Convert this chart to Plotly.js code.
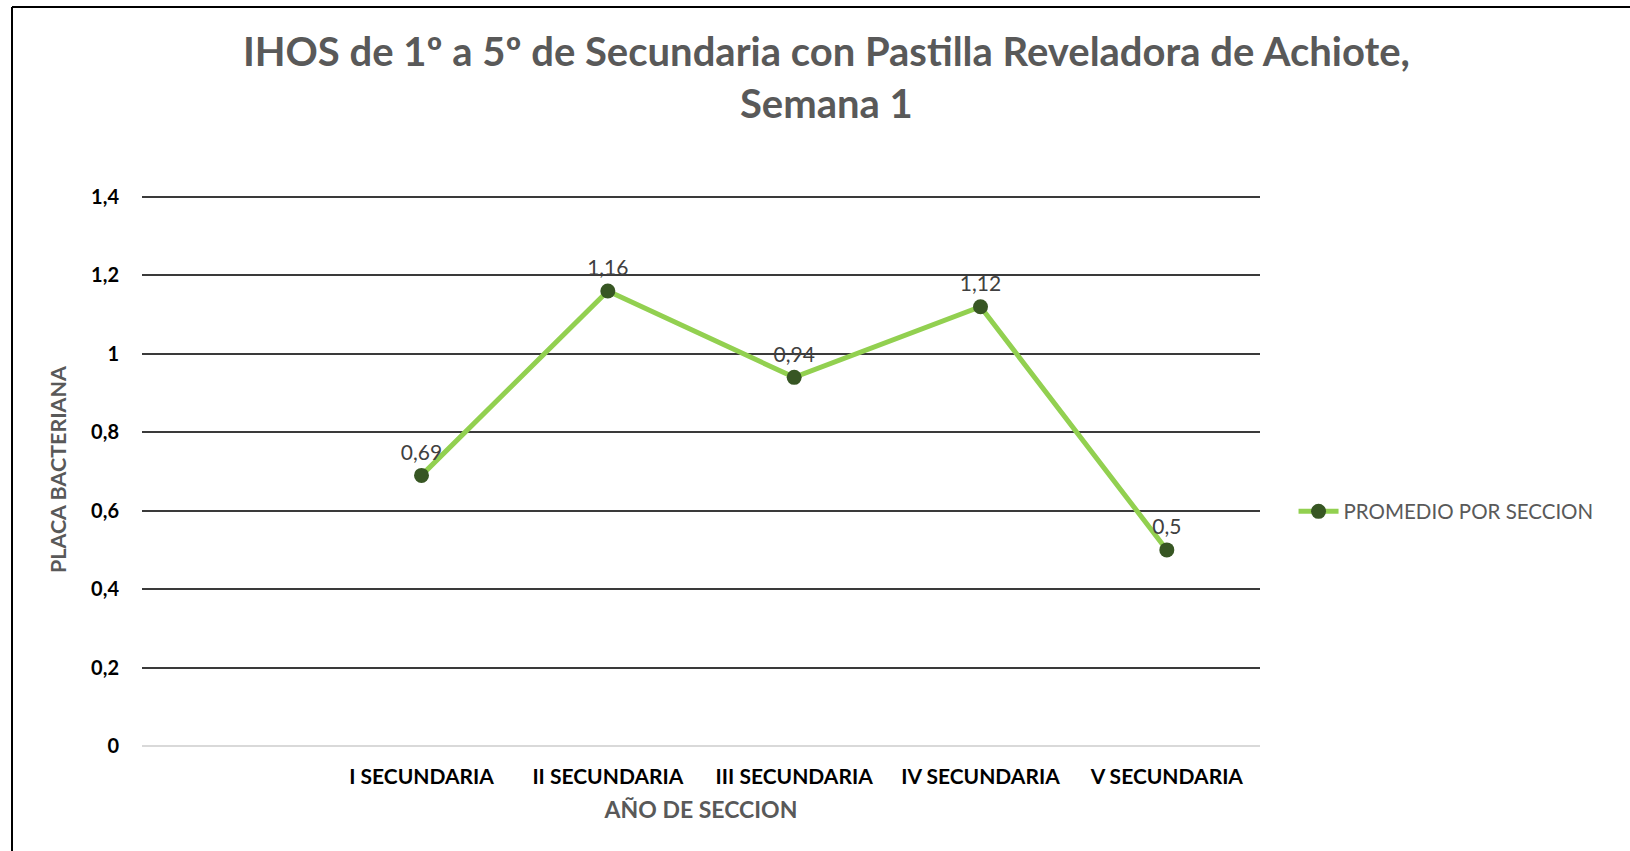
<!DOCTYPE html>
<html>
<head>
<meta charset="utf-8">
<script src="https://cdn.plot.ly/plotly-3.0.1.min.js"></script>
<style>
  html, body { margin: 0; padding: 0; background: #fff; }
  #plotArea { width: 1630px; height: 851px; }
</style>
</head>
<body>
<div id="plotArea"></div>
<script>
// first slot on the category axis is left empty, like the original sheet
var secciones = ["I SECUNDARIA", "II SECUNDARIA", "III SECUNDARIA", "IV SECUNDARIA", "V SECUNDARIA"];
var promedio = [0.69, 1.16, 0.94, 1.12, 0.5];
var etiquetas = ["0,69", "1,16", "0,94", "1,12", "0,5"];
var yTicks = [0, 0.2, 0.4, 0.6, 0.8, 1, 1.2, 1.4];

var trace = {
    x: secciones,
    y: promedio,
    type: "scatter",
    mode: "lines+markers+text",
    name: "PROMEDIO POR SECCION",
    text: etiquetas,
    textposition: "top center",
    textfont: {family: "Lato, Open Sans, sans-serif", size: 21, color: "#404040"},
    line: {color: "#92d050", width: 5},
    marker: {color: "#375623", size: 15},
    hoverinfo: "x+y"
};

var gray = "#595959";

// plot top sits a little above 1,4 so its gridline is kept
var layout = {
    width: 1630,
    height: 851,
    separators: ",.",
    margin: {l: 142, r: 370, t: 193, b: 105},
    paper_bgcolor: "#fff",
    plot_bgcolor: "#fff",
    font: {family: "Lato, Open Sans, sans-serif", color: "#000"},
    title: {
        text: "<b>IHOS de 1º a 5º de Secundaria con Pastilla Reveladora de Achiote,<br>Semana 1</b>",
        font: {family: "Lato, Open Sans, sans-serif", size: 40, color: gray},
        x: 0.507, xanchor: "center",
        y: 0.922, yanchor: "top"
    },
    xaxis: {
        type: "category",
        range: [-1.5, 4.5],
        showgrid: false,
        zeroline: false,
        showline: false,
        ticks: "",
        ticklabelstandoff: 16,
        tickfont: {size: 21, color: "#000", weight: "bold"},
        title: {text: "<b>AÑO DE SECCION</b>", font: {size: 23, color: gray}, standoff: 14}
    },
    yaxis: {
        range: [0, 1.41],
        tickvals: yTicks,
        showgrid: true,
        gridcolor: "#3a3a3a",
        gridwidth: 2,
        zeroline: true,
        zerolinecolor: "#d9d9d9",
        zerolinewidth: 2,
        ticks: "",
        ticklabelstandoff: 22,
        tickfont: {size: 20, color: "#000", weight: "bold"},
        title: {text: "<b>PLACA BACTERIANA</b>", font: {size: 21.5, color: gray}, standoff: 18}
    },
    showlegend: true,
    legend: {
        x: 1.03, xanchor: "left",
        y: 0.424, yanchor: "middle",
        font: {size: 20.5, color: gray},
        itemwidth: 40,
        bgcolor: "rgba(0,0,0,0)"
    },
    shapes: [
        {type: "line", xref: "paper", yref: "paper",
         x0: (12 - 142) / 1118, x1: (1630 - 142) / 1118,
         y0: (851 - 105 - 7) / 553, y1: (851 - 105 - 7) / 553,
         line: {color: "#000", width: 2}},
        {type: "line", xref: "paper", yref: "paper",
         x0: (12 - 142) / 1118, x1: (12 - 142) / 1118,
         y0: -105 / 553, y1: (851 - 105 - 7) / 553,
         line: {color: "#000", width: 2}}
    ]
};

Plotly.newPlot("plotArea", [trace], layout, {displayModeBar: false, staticPlot: true});
</script>
</body>
</html>
